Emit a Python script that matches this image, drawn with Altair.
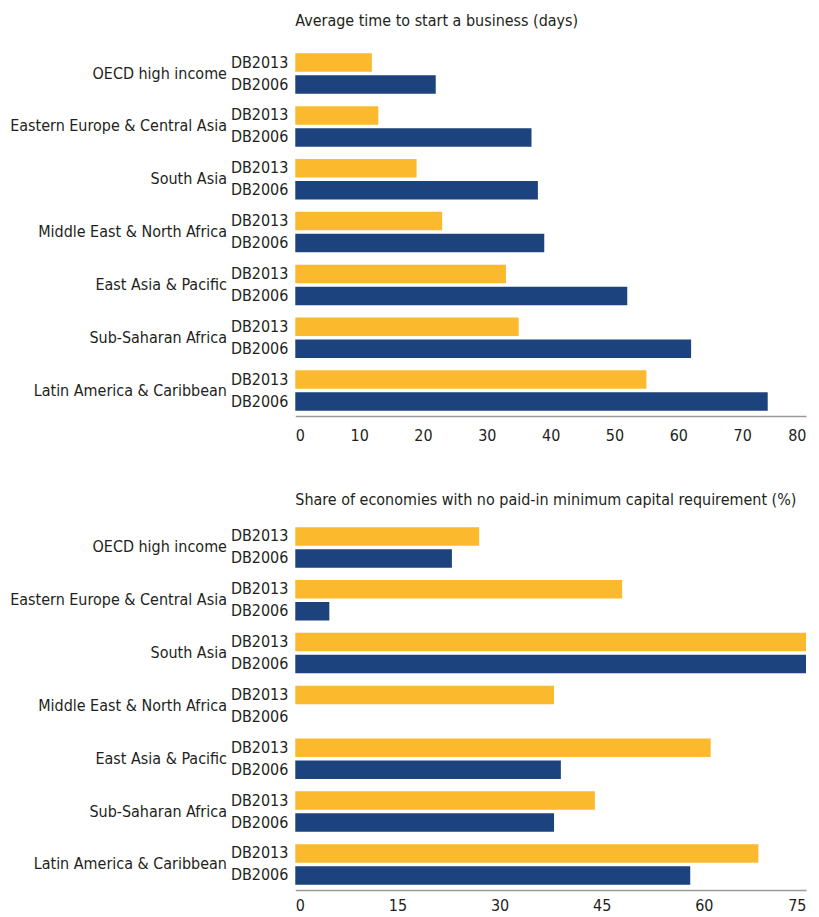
import altair as alt
import pandas as pd

regions = [
    "OECD high income",
    "Eastern Europe & Central Asia",
    "South Asia",
    "Middle East & North Africa",
    "East Asia & Pacific",
    "Sub-Saharan Africa",
    "Latin America & Caribbean",
]
series = ["DB2013", "DB2006"]

time_db2013 = [12, 13, 19, 23, 33, 35, 55]
time_db2006 = [22, 37, 38, 39, 52, 62, 74]

cap_db2013 = [27, 48, 75, 38, 61, 44, 68]
cap_db2006 = [23, 5, 75, 0, 39, 38, 58]

time_ticks = [0, 10, 20, 30, 40, 50, 60, 70, 80]
cap_ticks = [0, 15, 30, 45, 60, 75]

FONT = "Liberation Sans Narrow, DejaVu Sans Condensed, Arial Narrow, DejaVu Sans, sans-serif"
TEXT = "#231f20"
YELLOW = "#fbb92e"
BLUE = "#1c437d"


def make_df(v13, v06):
    rows = []
    for r, a, b in zip(regions, v13, v06):
        rows.append({"region": r, "series": "DB2013", "value": a})
        rows.append({"region": r, "series": "DB2006", "value": b})
    return pd.DataFrame(rows)


def panel(v13, v06, title, domain, ticks, offset, xlabpad):
    df = make_df(v13, v06)
    base = alt.Chart(df)
    y = alt.Y(
        "region:N",
        sort=regions,
        scale=alt.Scale(paddingInner=0.233, paddingOuter=0.1),
        axis=alt.Axis(
            title=None, domain=False, ticks=False, labelPadding=69,
            labelLimit=400, labelFontSize=16, labelColor=TEXT, labelFont=FONT,
        ),
    )
    yoff = alt.YOffset("series:N", sort=series, scale=alt.Scale(paddingInner=0.16))
    bars = base.mark_bar().encode(
        y=y,
        yOffset=yoff,
        x=alt.X(
            "value:Q",
            scale=alt.Scale(domain=domain, nice=False, zero=True),
            axis=alt.Axis(
                values=ticks, title=None, grid=False, ticks=False,
                domainColor="#9a9a9a", domainWidth=1.5, labelPadding=xlabpad,
                labelFontSize=16, labelColor=TEXT, labelFont=FONT,
            ),
        ),
        color=alt.Color(
            "series:N",
            scale=alt.Scale(domain=series, range=[YELLOW, BLUE]),
            legend=None,
        ),
    )
    labels = base.mark_text(
        align="right", baseline="middle", fontSize=16, font=FONT, color=TEXT
    ).encode(
        y=alt.Y("region:N", sort=regions),
        yOffset=alt.YOffset("series:N", sort=series),
        x=alt.value(-7),
        text="series:N",
    )
    return alt.layer(bars, labels).properties(
        width=512,
        height=369,
        title=alt.TitleParams(
            text=title, anchor="start", frame="group", fontSize=16,
            fontWeight="normal", font=FONT, color=TEXT, offset=offset,
        ),
    )


top = panel(time_db2013, time_db2006, "Average time to start a business (days)",
            [0, 80], time_ticks, 19.5, 11)
bottom = panel(
    cap_db2013, cap_db2006,
    "Share of economies with no paid-in minimum capital requirement (%)",
    [0, 75], cap_ticks, 13.8, 8,
)

chart = (
    alt.vconcat(top, bottom, spacing=49)
    .properties(padding={"left": 1, "top": 3, "right": 5, "bottom": 0})
    .configure_view(strokeWidth=0)
)

chart.save("out.html", embed_options={"renderer": "svg", "actions": False})
